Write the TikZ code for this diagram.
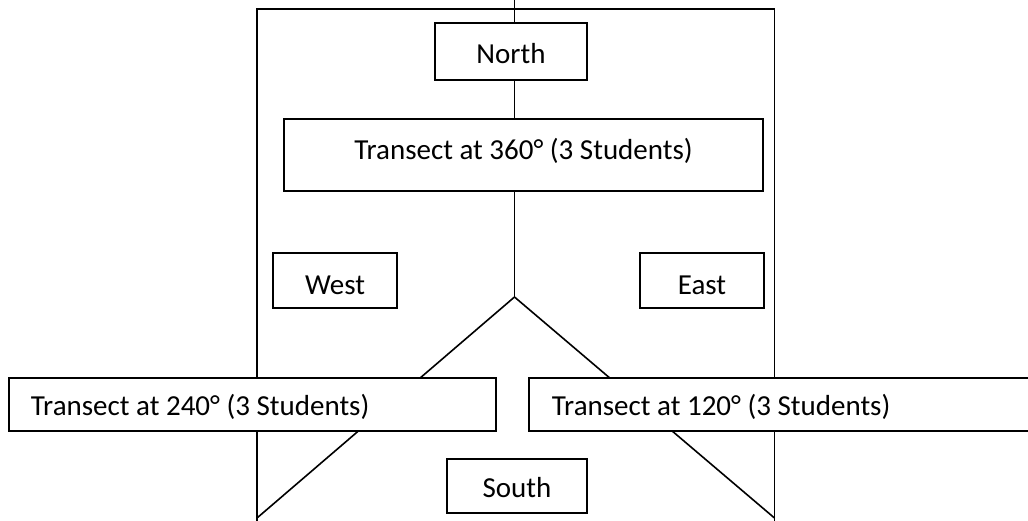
\documentclass[tikz,border=0pt]{standalone}
\usepackage{fontspec}
\setmainfont{Carlito}
\usetikzlibrary{backgrounds}
\tikzset{
  box/.style={draw, fill=white, line width=1.8pt, inner xsep=0pt, inner ysep=0pt,
    font=\fontsize{29}{34}\selectfont},
  wire/.style={line width=1.6pt}
}
\begin{document}
\begin{tikzpicture}[x=1pt, y=-1pt]
\useasboundingbox (0,0) rectangle (1028,520);
\node[box, minimum width=152pt, text height=40.5pt, text depth=16.5pt] (north) at (511,51.5) {North};
\node[box, minimum width=479pt, text height=40pt, text depth=32pt] (t360) at (523.5,155) {Transect at 360° (3 Students)};
\node[box, minimum width=124pt, text height=41pt, text depth=14pt] (west) at (335,280.5) {West};
\node[box, minimum width=124pt, text height=41pt, text depth=14pt] (east) at (702,280.5) {East};
\node[box, anchor=west, text width=443pt, align=flush left, inner xsep=22pt, text height=37pt, text depth=16pt] (t240) at (8,404.5) {Transect at 240° (3 Students)};
\node[box, anchor=west, text width=466pt, align=flush left, inner xsep=23pt, text height=37pt, text depth=16pt] (t120) at (528,404.5) {Transect at 120° (3 Students)};
\node[box, minimum width=140pt, text height=38pt, text depth=16pt] (south) at (517,486) {South};

\coordinate (top) at (514.5,-2);
\coordinate (apex) at (514.5,297);
\coordinate (sw) at (257,518);
\coordinate (se) at (774.5,518);
\coordinate (fbl) at (257,522);
\coordinate (ftl) at (257,9);
\coordinate (ftr) at (774.5,9);
\coordinate (fbr) at (774.5,522);

\begin{scope}[on background layer]
\draw[wire] (fbl) -- (ftl) -- (ftr) -- (fbr);
\draw[wire] (top) -- (top |- north.north);
\draw[wire] (north.south -| top) -- (top |- t360.north);
\draw[wire] (t360.south -| apex) -- (apex);
\draw[wire] (apex) -- (sw);
\draw[wire] (apex) -- (se);
\end{scope}
\end{tikzpicture}
\end{document}
